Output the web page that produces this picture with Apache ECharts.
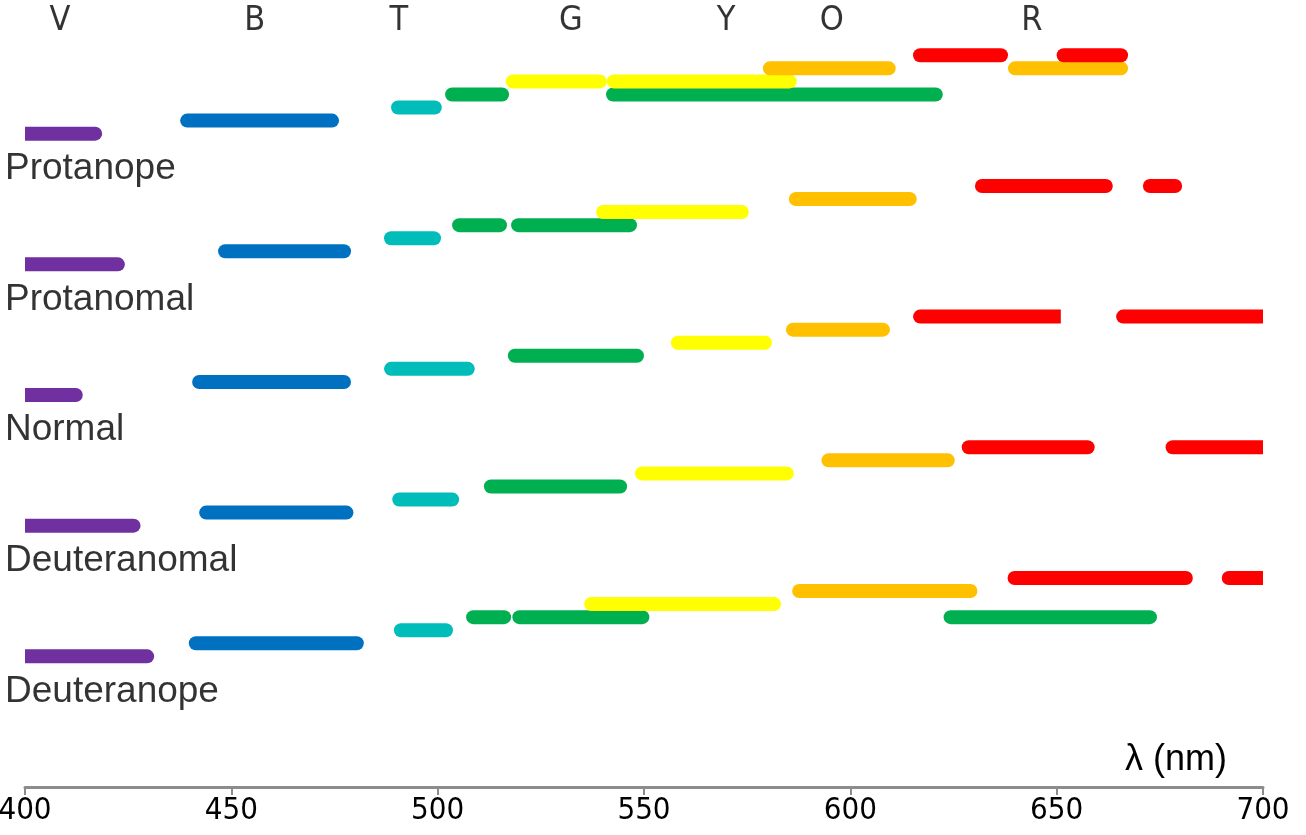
<!DOCTYPE html>
<html>
<head>
<meta charset="utf-8">
<title>Colour bands by observer</title>
<script src="https://cdn.jsdelivr.net/npm/echarts@6/dist/echarts.min.js"></script>
<style>
    body { margin: 0; background: #fff; }
    #main { width: 1306px; height: 835px; }
</style>
</head>
<body>
<div id="main"></div>
<script>
// observers, top to bottom
var groups = ['Protanope', 'Protanomal', 'Normal', 'Deuteranomal', 'Deuteranope'];

// colour names written across the top and the wavelength each sits over
var bandNames = ['V', 'B', 'T', 'G', 'Y', 'O', 'R'];
var bandAt = [408.5, 455.7, 490.6, 532.3, 569.9, 595.5, 644];
var bandColors = ['#7030a0', '#0070c0', '#00bdba', '#00b050', '#ffff00', '#ffc000', '#ff0000'];

var ticks = [400, 450, 500, 550, 600, 650, 700];

// ranges: [from nm, to nm, band index, open end (0 none, 1 left, 2 right)]
var protanope = [
    [400, 418.7, 0, 1],
    [437.6, 476.1, 1, 0],
    [488.7, 501.0, 2, 0],
    [501.8, 517.3, 3, 0], [540.8, 622.4, 3, 0],
    [516.5, 541.0, 4, 0], [541.0, 587.0, 4, 0],
    [578.8, 611.0, 5, 0], [638.2, 667.3, 5, 0],
    [615.2, 638.2, 6, 0], [650.0, 667.3, 6, 0]
];
var protanomal = [
    [400, 424.2, 0, 1],
    [446.8, 479.0, 1, 0],
    [487.0, 500.8, 2, 0],
    [503.5, 516.8, 3, 0], [517.8, 548.3, 3, 0],
    [538.4, 575.4, 4, 0],
    [585.1, 616.1, 5, 0],
    [630.2, 663.6, 6, 0], [670.9, 680.4, 6, 0]
];
var normal = [
    [400, 414.0, 0, 1],
    [440.5, 479.0, 1, 0],
    [487.0, 509.0, 2, 0],
    [517.0, 550.0, 3, 0],
    [556.5, 581.0, 4, 0],
    [584.4, 609.6, 5, 0],
    [615.2, 651.0, 6, 2], [664.4, 700, 6, 2]
];
var deuteranomal = [
    [400, 428.0, 0, 1],
    [442.2, 479.6, 1, 0],
    [489.0, 505.2, 2, 0],
    [511.2, 545.9, 3, 0],
    [547.8, 586.3, 4, 0],
    [593.0, 625.3, 5, 0],
    [627.0, 659.2, 6, 0], [676.4, 700, 6, 2]
];
var deuteranope = [
    [400, 431.3, 0, 1],
    [439.7, 482.1, 1, 0],
    [489.4, 503.7, 2, 0],
    [506.9, 517.8, 3, 0], [518.1, 551.3, 3, 0], [622.6, 674.3, 3, 0],
    [535.5, 583.2, 4, 0],
    [585.9, 630.8, 5, 0],
    [638.1, 683.0, 6, 0], [690.0, 700, 6, 2]
];
var ranges = [protanope, protanomal, normal, deuteranomal, deuteranope];

// each observer gets 10 units of height, one unit per band step
function rowBase(g) { return (groups.length - 1 - g) * 10; }

var rangeData = [];
ranges.forEach(function (list, g) {
    list.forEach(function (d) {
        rangeData.push([d[0], d[1], rowBase(g) + d[2], d[2], d[3]]);
    });
});

var barH = 14;

function renderRange(params, api) {
    var y = api.value(2);
    var a = api.coord([api.value(0), y]);
    var b = api.coord([api.value(1), y]);
    var open = api.value(4);
    var r = barH / 2;
    var rl = open === 1 ? 0 : r;
    var rr = open === 2 ? 0 : r;
    return {
        type: 'rect',
        shape: { x: a[0], y: a[1] - barH / 2, width: b[0] - a[0], height: barH, r: [rl, rr, rr, rl] },
        style: { fill: bandColors[api.value(3)] }
    };
}

var narrow = "'Liberation Sans Narrow', 'DejaVu Sans Condensed', 'Liberation Sans', sans-serif";

var myChart = echarts.init(document.getElementById('main'));

var option = {
    animation: false,
    backgroundColor: '#fff',
    grid: { left: 25, right: 43, top: 3, bottom: 48, containLabel: false, outerBoundsMode: 'none' },
    xAxis: {
        type: 'value',
        min: ticks[0],
        max: ticks[ticks.length - 1],
        interval: 50,
        splitLine: { show: false },
        axisLine: { show: true, onZero: false, lineStyle: { color: '#8c8c8c', width: 3 } },
        axisTick: { show: true, length: 8, lineStyle: { color: '#8c8c8c', width: 2 } },
        axisLabel: {
            margin: 8,
            color: '#000',
            fontSize: 31,
            fontFamily: narrow
        },
        name: 'λ (nm)',
        nameLocation: 'end',
        nameGap: -36,
        nameTextStyle: {
            color: '#000',
            fontSize: 36,
            fontFamily: "'Liberation Sans', sans-serif",
            align: 'right',
            verticalAlign: 'bottom',
            padding: [0, 0, 9, 0]
        }
    },
    yAxis: { type: 'value', min: -10, max: 50, show: false },
    series: [
        {
            type: 'custom',
            renderItem: renderRange,
            data: rangeData,
            silent: true
        },
        {
            // band letters along the top
            type: 'scatter',
            symbolSize: 0,
            clip: false,
            silent: true,
            data: bandAt.map(function (x, i) { return { name: bandNames[i], value: [x, 48.6] }; }),
            label: {
                show: true,
                position: 'inside',
                formatter: '{b}',
                color: '#000',
                fontSize: 34,
                fontFamily: narrow,
                align: 'center',
                verticalAlign: 'middle'
            }
        },
        {
            // observer names under each staircase
            type: 'scatter',
            symbolSize: 0,
            clip: false,
            silent: true,
            data: groups.map(function (n, g) { return { name: n, value: [ticks[0], rowBase(g) - 2.7] }; }),
            label: {
                show: true,
                position: [-20, 0],
                formatter: '{b}',
                color: '#000',
                fontSize: 37,
                fontFamily: "'Liberation Sans', Arial, sans-serif",
                align: 'left',
                verticalAlign: 'middle'
            }
        }
    ]
};

myChart.setOption(option);
</script>
</body>
</html>
